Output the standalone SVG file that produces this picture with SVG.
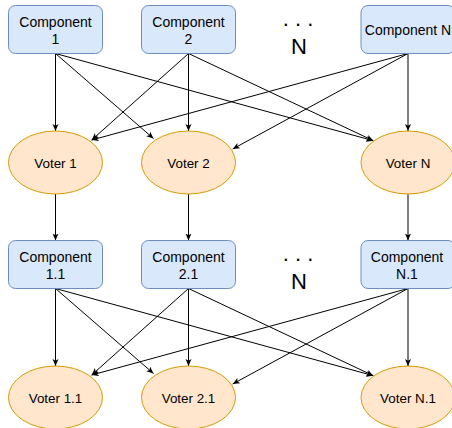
<svg xmlns="http://www.w3.org/2000/svg" width="452" height="428" viewBox="0 0 452 428">
  <style>
    .comp rect { fill: #dae8fc; stroke: #6c8ebf; stroke-width: 1; }
    .voter ellipse { fill: #ffe6cc; stroke: #d79b00; stroke-width: 1; }
    text { font-family: "Liberation Sans", Arial, sans-serif; fill: #000; text-anchor: middle; }
    .ct { font-size: 14px; }
    .vt { font-size: 13.4px; }
    .nt { font-size: 22px; }
    #edges line { stroke: #000; stroke-width: 1; fill: none; marker-end: url(#arrow); }
  </style>
  <defs>
    <marker id="arrow" markerUnits="userSpaceOnUse" markerWidth="8" markerHeight="7" refX="7" refY="3" orient="auto">
      <path d="M0,0 L7,3 L0,6 L1.8,3 Z" fill="#000"/>
    </marker>
  </defs>

  <rect width="452" height="428" fill="#fff"/>

  <!-- connectors -->
  <g id="edges">
    <!-- components row 1 to voters row 1 -->
    <line x1="55.5" y1="53.5" x2="55.5" y2="131"/>
    <line x1="55.5" y1="53.5" x2="153.5" y2="138.5"/>
    <line x1="55.5" y1="53.5" x2="373.3" y2="140.7"/>
    <line x1="188.5" y1="53.5" x2="91.7" y2="140"/>
    <line x1="188.5" y1="53.5" x2="188.5" y2="131"/>
    <line x1="188.5" y1="53.5" x2="373.3" y2="140.7"/>
    <line x1="408" y1="53.5" x2="91.7" y2="140"/>
    <line x1="408" y1="53.5" x2="232.7" y2="149"/>
    <line x1="408" y1="53.5" x2="408" y2="131"/>
    <!-- voters row 1 to components row 2 -->
    <line x1="55.5" y1="194" x2="55.5" y2="240.5"/>
    <line x1="188.5" y1="194" x2="188.5" y2="240.5"/>
    <line x1="408" y1="194" x2="408" y2="240.5"/>
    <!-- components row 2 to voters row 2 -->
    <line x1="55.5" y1="288.5" x2="55.5" y2="366"/>
    <line x1="55.5" y1="288.5" x2="153.5" y2="373.5"/>
    <line x1="55.5" y1="288.5" x2="373.3" y2="375.7"/>
    <line x1="188.5" y1="288.5" x2="91.7" y2="375"/>
    <line x1="188.5" y1="288.5" x2="188.5" y2="366"/>
    <line x1="188.5" y1="288.5" x2="373.3" y2="375.7"/>
    <line x1="408" y1="288.5" x2="91.7" y2="375"/>
    <line x1="408" y1="288.5" x2="232.7" y2="384"/>
    <line x1="408" y1="288.5" x2="408" y2="366"/>
  </g>

  <!-- row 1 components -->
  <g id="comp1" class="comp">
    <rect x="8.5" y="5.5" width="94" height="48" rx="7"/>
    <text class="ct" x="55.5" y="27">Component</text>
    <text class="ct" x="55.5" y="43.5">1</text>
  </g>
  <g id="comp2" class="comp">
    <rect x="141.5" y="5.5" width="94" height="48" rx="7"/>
    <text class="ct" x="188.5" y="27">Component</text>
    <text class="ct" x="188.5" y="43.5">2</text>
  </g>
  <g id="dots1">
    <text class="nt" x="298" y="26">. . .</text>
    <text class="nt" x="299" y="54">N</text>
  </g>
  <g id="compN" class="comp">
    <rect x="361" y="5.5" width="94" height="48" rx="7"/>
    <text class="ct" x="408" y="35">Component N</text>
  </g>

  <!-- row 1 voters -->
  <g id="voter1" class="voter">
    <ellipse cx="55.5" cy="162.5" rx="47" ry="31.5"/>
    <text class="vt" x="55.5" y="168">Voter 1</text>
  </g>
  <g id="voter2" class="voter">
    <ellipse cx="188.5" cy="162.5" rx="47" ry="31.5"/>
    <text class="vt" x="188.5" y="168">Voter 2</text>
  </g>
  <g id="voterN" class="voter">
    <ellipse cx="408" cy="162.5" rx="47" ry="31.5"/>
    <text class="vt" x="408" y="168">Voter N</text>
  </g>

  <!-- row 2 components -->
  <g id="comp1_1" class="comp">
    <rect x="8.5" y="240.5" width="94" height="48" rx="7"/>
    <text class="ct" x="55.5" y="262">Component</text>
    <text class="ct" x="55.5" y="278.5">1.1</text>
  </g>
  <g id="comp2_1" class="comp">
    <rect x="141.5" y="240.5" width="94" height="48" rx="7"/>
    <text class="ct" x="188.5" y="262">Component</text>
    <text class="ct" x="188.5" y="278.5">2.1</text>
  </g>
  <g id="dots2">
    <text class="nt" x="298" y="261">. . .</text>
    <text class="nt" x="299" y="289">N</text>
  </g>
  <g id="compN_1" class="comp">
    <rect x="361" y="240.5" width="94" height="48" rx="7"/>
    <text class="ct" x="407" y="262">Component</text>
    <text class="ct" x="407" y="278.5">N.1</text>
  </g>

  <!-- row 2 voters -->
  <g id="voter1_1" class="voter">
    <ellipse cx="55.5" cy="397.5" rx="47" ry="31.5"/>
    <text class="vt" x="55.5" y="403">Voter 1.1</text>
  </g>
  <g id="voter2_1" class="voter">
    <ellipse cx="188.5" cy="397.5" rx="47" ry="31.5"/>
    <text class="vt" x="188.5" y="403">Voter 2.1</text>
  </g>
  <g id="voterN_1" class="voter">
    <ellipse cx="408" cy="397.5" rx="47" ry="31.5"/>
    <text class="vt" x="408" y="403">Voter N.1</text>
  </g>
</svg>
